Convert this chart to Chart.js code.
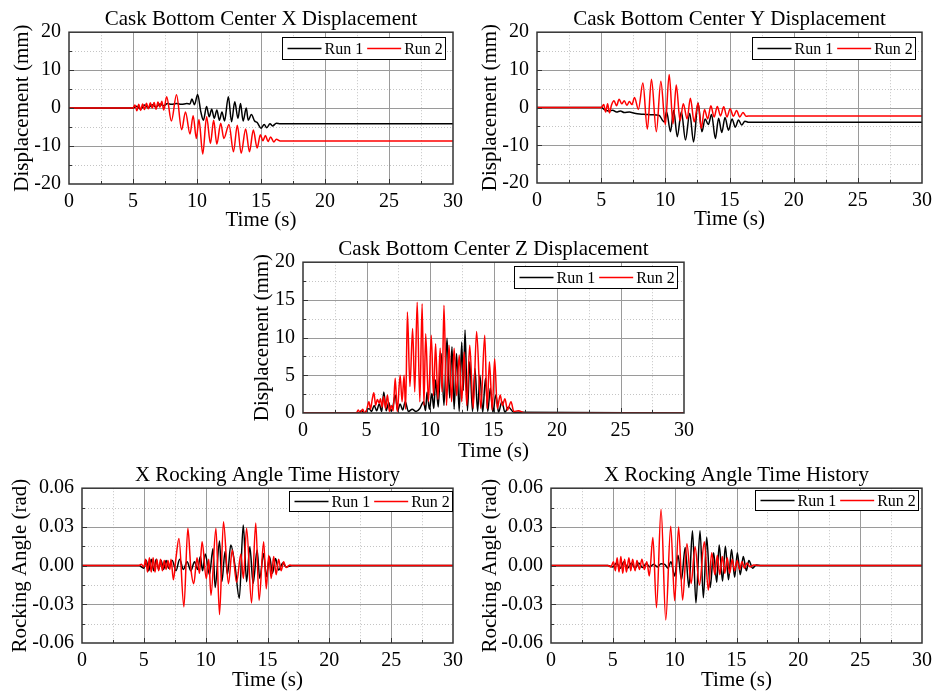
<!DOCTYPE html>
<html>
<head>
<meta charset="utf-8">
<script src="https://cdn.jsdelivr.net/npm/chart.js@4.4.0/dist/chart.umd.min.js"></script>
<style>
  body { margin: 0; background: #fff; }
  .panel { position: absolute; }
</style>
</head>
<body>
<div class="panel" id="p1"><canvas id="c1"></canvas></div>
<div class="panel" id="p2"><canvas id="c2"></canvas></div>
<div class="panel" id="p3"><canvas id="c3"></canvas></div>
<div class="panel" id="p4"><canvas id="c4"></canvas></div>
<div class="panel" id="p5"><canvas id="c5"></canvas></div>
<script>
// ---- data (time in s) ----
const xRun1T = [0, 5.0, 5.3, 5.6, 5.9, 6.2, 6.5, 6.8, 7.1, 7.4, 7.7, 8.0, 8.4, 8.8, 9.2, 9.45, 9.6, 9.8, 10.05, 10.3, 10.5, 10.75, 10.95, 11.15, 11.35, 11.55, 11.75, 11.95, 12.15, 12.45, 12.7, 12.95, 13.2, 13.4, 13.6, 13.85, 14.0, 14.25, 14.5, 14.7, 15.0, 15.25, 15.45, 15.7, 15.9, 16.2, 16.5, 30];
const xRun1V = [0, 0, 0.5, -0.3, 0.8, 0.1, 0.9, 0.3, 1.1, 0.6, 1.2, 1.0, 1.2, 1.0, 1.2, 1.1, 2.4, 0.9, 3.6, -1.0, -3.2, 0.4, -2.3, -0.3, -2.7, -0.5, -3.2, -1.0, -3.4, 3.0, -3.6, 1.7, -2.7, 1.2, -3.4, 0.0, -3.2, -1.7, -3.4, -3.8, -5.3, -4.3, -5.2, -4.1, -4.7, -4.0, -4.1, -4.1];
const xRun2T = [0, 5.0, 5.15, 5.3, 5.45, 5.6, 5.75, 5.9, 6.05, 6.2, 6.35, 6.5, 6.65, 6.8, 6.95, 7.1, 7.25, 7.4, 7.63, 8.0, 8.4, 8.8, 9.1, 9.45, 9.7, 9.95, 10.15, 10.45, 10.75, 11.05, 11.3, 11.55, 11.85, 12.1, 12.5, 12.85, 13.15, 13.45, 13.8, 14.1, 14.4, 14.7, 14.95, 15.15, 15.35, 15.55, 15.75, 16.0, 16.2, 16.5, 30];
const xRun2V = [0, 0, 0.8, -0.7, 1.0, -0.6, 1.1, -0.4, 1.3, -0.2, 1.4, 0.0, 1.5, -0.3, 1.6, 0.2, 1.8, -0.5, 3.0, -3.4, 3.5, -5.7, -1.0, -6.8, -2.0, -8.0, -3.0, -12.1, -2.3, -9.3, -3.2, -9.5, -4.0, -8.0, -4.3, -11.5, -4.5, -11.9, -5.5, -11.5, -5.8, -10.5, -7.0, -8.6, -7.2, -8.8, -7.6, -8.9, -8.2, -8.7, -8.7];

const yRun1T = [0, 5.0, 5.3, 5.6, 5.9, 6.2, 6.5, 6.8, 7.2, 7.6, 8.0, 8.5, 9.0, 9.5, 9.9, 10.1, 10.4, 10.65, 10.93, 11.25, 11.57, 11.9, 12.2, 12.55, 12.85, 13.1, 13.35, 13.6, 13.9, 14.15, 14.4, 14.65, 14.92, 15.2, 15.45, 15.7, 15.95, 16.2, 16.5, 30];
const yRun1V = [0, 0, -0.6, -0.9, -0.7, -1.2, -0.9, -1.3, -1.2, -1.5, -1.7, -1.8, -1.9, -2.0, -3.8, -1.1, -6.4, -0.7, -7.7, -1.1, -8.6, -1.5, -9.1, 1.2, -6.4, -3.0, -4.5, -1.8, -8.2, -2.8, -6.6, -2.6, -6.0, -3.0, -5.2, -3.3, -4.6, -3.6, -3.9, -3.9];
const yRun2T = [0, 5.0, 5.2, 5.35, 5.5, 5.65, 5.8, 6.0, 6.2, 6.4, 6.6, 6.8, 7.0, 7.2, 7.4, 7.6, 7.9, 8.25, 8.6, 8.92, 9.3, 9.65, 10.0, 10.3, 10.6, 10.85, 11.15, 11.4, 11.7, 11.95, 12.25, 12.55, 12.8, 13.05, 13.3, 13.55, 13.8, 14.05, 14.3, 14.55, 14.8, 15.05, 15.3, 15.55, 15.8, 16.05, 16.3, 16.6, 30];
const yRun2V = [0, 0, 0.8, -1.2, 1.0, -1.4, 0.6, 1.8, 0.5, 2.2, 1.0, 1.8, 0.6, 1.6, 0.8, 2.7, -0.5, 6.5, -5.7, 7.5, -6.4, 7.0, -4.5, 8.8, -4.3, 6.0, -3.5, 1.0, -3.0, 2.5, -3.8, 1.2, -5.5, -0.5, -3.0, 0.5, -2.5, 0.3, -2.2, 0.2, -2.5, -0.3, -2.3, -0.8, -2.5, -1.3, -2.3, -2.2, -2.2];

const zRun1T = [0, 4.4, 4.6, 4.8, 5.2, 5.4, 5.6, 5.8, 6.0, 6.2, 6.36, 6.55, 6.75, 6.95, 7.1, 7.26, 7.45, 7.65, 7.85, 8.05, 8.3, 8.6, 8.9, 9.2, 9.5, 9.65, 9.77, 9.95, 10.15, 10.3, 10.44, 10.65, 10.88, 11.1, 11.34, 11.55, 11.73, 11.9, 12.09, 12.3, 12.5, 12.62, 12.76, 12.95, 13.13, 13.35, 13.54, 13.75, 13.93, 14.15, 14.37, 14.55, 14.75, 14.95, 15.19, 15.4, 15.66, 15.9, 16.17, 16.6, 30];
const zRun1V = [0, 0, 0.3, 0, 0.6, 0.2, 1.0, 0.3, 1.2, 0.2, 2.8, 0.3, 1.4, 0.2, 1.0, 2.4, 0.3, 1.2, 0.4, 1.5, 0.2, 0.5, 0.2, 0.6, 1.5, 0.3, 2.8, 0.5, 2.6, 0.6, 4.4, 0.8, 7.9, 1.0, 9.9, 2.0, 8.8, 0.5, 7.9, 0.2, 9.4, 3.0, 11.0, 0.3, 6.8, 0.2, 5.9, 0.2, 5.0, 0.1, 4.6, 0.2, 3.3, 0.1, 2.4, 0.1, 1.5, 0.1, 0.8, 0.1, 0];
const zRun2T = [0, 4.2, 4.35, 4.5, 4.7, 4.85, 5.0, 5.19, 5.32, 5.45, 5.58, 5.72, 5.85, 6.0, 6.1, 6.22, 6.36, 6.5, 6.65, 6.8, 6.95, 7.1, 7.26, 7.42, 7.65, 7.8, 7.96, 8.08, 8.22, 8.42, 8.63, 8.8, 8.99, 9.2, 9.38, 9.52, 9.66, 9.88, 10.1, 10.28, 10.44, 10.62, 10.8, 10.95, 11.1, 11.3, 11.5, 11.7, 11.9, 12.1, 12.3, 12.5, 12.69, 12.9, 13.13, 13.4, 13.67, 14.0, 14.31, 14.5, 14.68, 14.9, 15.09, 15.3, 15.53, 15.7, 15.9, 16.1, 16.38, 16.6, 16.95, 17.5, 30];
const zRun2V = [0, 0, 0.4, 0, 0.5, 0, 0.3, 1.5, 0.5, 1.8, 2.7, 1.0, 1.8, 1.3, 1.9, 0.8, 2.2, 0.6, 2.4, 0.2, 1.0, 0.3, 4.6, 0.2, 5.0, 1.5, 5.0, 0.5, 13.4, 3.5, 11.2, 2.8, 14.7, 1.5, 14.5, 1.0, 10.5, 1.5, 10.3, 2.3, 9.2, 1.8, 8.6, 2.8, 14.3, 1.0, 9.0, 1.5, 8.6, 2.3, 7.7, 1.5, 8.1, 1.0, 9.0, 0.6, 10.8, 0.6, 10.3, 0.6, 6.8, 0.4, 7.2, 0.6, 2.4, 1.0, 1.9, 0.4, 1.5, 0.2, 0.3, 0, 0];

const rock1Run1T = [0, 4.6, 5.0, 5.2, 5.4, 5.6, 5.8, 6.0, 6.2, 6.4, 6.6, 6.8, 7.0, 7.3, 7.6, 7.9, 8.2, 8.5, 8.8, 9.1, 9.35, 9.57, 9.75, 9.97, 10.31, 10.59, 10.77, 11.12, 11.31, 11.57, 11.76, 12.03, 12.37, 12.72, 13.04, 13.31, 13.57, 13.84, 14.16, 14.37, 14.69, 14.9, 15.17, 15.4, 15.65, 15.9, 16.24, 16.5, 17.0, 30];
const rock1Run1V = [0, 0, -0.002, 0.004, -0.004, 0.005, -0.004, 0.005, -0.003, 0.004, -0.003, 0.004, -0.002, 0.004, -0.004, 0.005, -0.003, 0.003, -0.004, 0.003, -0.003, 0.007, -0.004, 0.009, -0.007, 0.013, -0.017, 0.019, -0.0125, 0.011, -0.007, 0.016, 0.000, -0.0254, 0.0314, -0.0125, 0.0146, -0.0138, 0.012, -0.010, 0.0094, -0.0086, 0.0068, -0.006, 0.0055, -0.0035, 0.002, -0.001, 0, 0];
const rock1Run2T = [0, 4.6, 4.8, 5.0, 5.15, 5.3, 5.45, 5.6, 5.75, 5.9, 6.05, 6.2, 6.35, 6.5, 6.65, 6.8, 6.95, 7.1, 7.2, 7.39, 7.6, 7.84, 8.24, 8.56, 8.8, 9.04, 9.3, 9.5, 9.71, 10.05, 10.25, 10.43, 10.83, 11.12, 11.44, 11.84, 12.15, 12.5, 12.85, 13.05, 13.31, 13.71, 14.05, 14.32, 14.69, 14.9, 15.1, 15.3, 15.5, 15.7, 15.9, 16.1, 16.3, 16.5, 16.8, 17.0, 30];
const rock1Run2V = [0, 0, 0.001, -0.001, 0.005, -0.005, 0.006, -0.005, 0.006, -0.005, 0.005, -0.004, 0.005, -0.004, 0.004, -0.003, 0.004, -0.003, 0.005, -0.011, 0.006, 0.021, -0.032, 0.029, -0.002, -0.014, 0.006, -0.006, 0.0185, -0.010, 0.005, -0.023, 0.029, -0.038, 0.034, -0.014, 0.012, -0.013, 0.009, -0.010, 0.029, -0.029, 0.033, -0.027, 0.0185, -0.018, 0.008, -0.010, 0.007, -0.007, 0.005, -0.004, 0.003, -0.0015, 0.0005, 0, 0];

const rock2Run1T = [0, 4.6, 5.0, 5.3, 5.6, 5.9, 6.2, 6.5, 6.8, 7.1, 7.4, 7.7, 8.0, 8.3, 8.6, 8.9, 9.2, 9.45, 9.7, 10.0, 10.27, 10.55, 10.85, 11.15, 11.44, 11.72, 12.05, 12.32, 12.59, 12.87, 13.15, 13.4, 13.6, 13.87, 14.1, 14.35, 14.6, 14.85, 15.07, 15.3, 15.55, 15.8, 16.0, 16.3, 16.6, 17.0, 30];
const rock2Run1V = [0, 0, -0.001, 0.002, -0.002, 0.003, -0.002, 0.002, -0.002, 0.002, -0.0015, 0.0015, -0.001, 0.001, -0.001, 0.0015, 0.001, -0.002, 0.003, -0.008, 0.008, -0.011, 0.014, -0.017, 0.027, -0.029, 0.027, -0.025, 0.022, -0.017, 0.010, -0.013, 0.016, -0.012, 0.015, -0.011, 0.0125, -0.009, 0.010, -0.007, 0.007, -0.004, 0.004, -0.002, 0.0005, 0, 0];
const rock2Run2T = [0, 4.6, 4.85, 5.05, 5.2, 5.35, 5.5, 5.65, 5.8, 5.95, 6.1, 6.3, 6.45, 6.6, 6.8, 6.95, 7.15, 7.35, 7.55, 7.75, 7.95, 8.24, 8.53, 8.9, 9.28, 9.68, 10.0, 10.32, 10.64, 10.99, 11.33, 11.65, 12.0, 12.4, 12.72, 13.0, 13.25, 13.45, 13.65, 13.85, 14.05, 14.25, 14.45, 14.65, 14.85, 15.05, 15.25, 15.45, 15.65, 15.85, 16.1, 16.4, 16.8, 30];
const rock2Run2V = [0, 0, -0.001, 0.003, -0.004, 0.006, -0.005, 0.007, -0.006, 0.005, -0.005, 0.006, -0.004, 0.005, -0.004, 0.004, -0.003, 0.005, -0.003, 0.003, -0.008, 0.0218, -0.0326, 0.0437, -0.0422, 0.0306, -0.0272, 0.030, -0.0267, 0.017, -0.0138, 0.0146, -0.015, 0.0185, -0.019, 0.010, -0.007, 0.008, -0.007, 0.007, -0.006, 0.006, -0.006, 0.005, -0.004, 0.004, -0.003, 0.003, -0.002, 0.002, -0.001, 0.0005, 0, 0];

const timeTicks = [0, 5, 10, 15, 20, 25, 30];
const timeMinor = [2.5, 7.5, 12.5, 17.5, 22.5, 27.5];
const dispTicks = [-20, -10, 0, 10, 20];
const dispMinor = [-15, -5, 5, 15];
const zTicks = [0, 5, 10, 15, 20];
const zMinor = [2.5, 7.5, 12.5, 17.5];
const rockTicks = [-0.06, -0.03, 0, 0.03, 0.06];
const rockMinor = [-0.045, -0.015, 0.015, 0.045];
const runLabels = ['Run 1', 'Run 2'];

Chart.defaults.font.family = '"Liberation Serif", "Times New Roman", serif';
Chart.defaults.color = '#000';

function pts(t, v) { return t.map((x, i) => ({ x: x, y: v[i] })); }

function line(ctx, x1, y1, x2, y2) {
  ctx.beginPath(); ctx.moveTo(x1, y1); ctx.lineTo(x2, y2); ctx.stroke();
}

const framePlugin = {
  id: 'frame',
  beforeDatasetsDraw(chart, args, o) {
    const { ctx, chartArea: a, scales: { x, y } } = chart;
    ctx.save();
    ctx.lineWidth = 1;
    // minor grid, dotted
    ctx.strokeStyle = '#c4c4c4';
    ctx.setLineDash([1, 2]);
    o.xMinor.forEach(v => { const p = Math.round(x.getPixelForValue(v)) + 0.5; line(ctx, p, a.top, p, a.bottom); });
    o.yMinor.forEach(v => { const p = Math.round(y.getPixelForValue(v)) + 0.5; line(ctx, a.left, p, a.right, p); });
    // major grid, solid
    ctx.setLineDash([]);
    ctx.strokeStyle = '#9a9a9a';
    o.xMajor.forEach(v => { const p = Math.round(x.getPixelForValue(v)) + 0.5; line(ctx, p, a.top, p, a.bottom); });
    o.yMajor.forEach(v => { const p = Math.round(y.getPixelForValue(v)) + 0.5; line(ctx, a.left, p, a.right, p); });
    ctx.restore();
  },
  afterDatasetsDraw(chart, args, o) {
    const { ctx, chartArea: a, scales: { x, y } } = chart;
    ctx.save();
    ctx.strokeStyle = '#333';
    ctx.lineWidth = 1.5;
    ctx.strokeRect(a.left, a.top, a.right - a.left, a.bottom - a.top);
    // inward ticks on bottom and left
    ctx.lineWidth = 1;
    o.xMajor.forEach(v => { const p = Math.round(x.getPixelForValue(v)) + 0.5; line(ctx, p, a.bottom, p, a.bottom - 5); });
    o.xMinor.forEach(v => { const p = Math.round(x.getPixelForValue(v)) + 0.5; line(ctx, p, a.bottom, p, a.bottom - 3); });
    o.yMajor.forEach(v => { const p = Math.round(y.getPixelForValue(v)) + 0.5; line(ctx, a.left, p, a.left + 5, p); });
    o.yMinor.forEach(v => { const p = Math.round(y.getPixelForValue(v)) + 0.5; line(ctx, a.left, p, a.left + 3, p); });

    // legend box inside the plot, top right
    const sets = chart.data.datasets;
    ctx.font = '16px "Liberation Serif"';
    const seg = 34;
    let w = 5;
    sets.forEach(d => { w += seg + 3 + ctx.measureText(d.label).width + 4; });
    w = w - 4 + 3;
    const h = o.legendH;
    const bx = Math.round(a.right - o.legendDx - w) + 0.5;
    const by = Math.round(a.top + o.legendDy) + 0.5;
    ctx.fillStyle = '#fff';
    ctx.fillRect(bx, by, w, h);
    ctx.strokeStyle = '#000';
    ctx.lineWidth = 1;
    ctx.strokeRect(bx, by, Math.round(w), h);
    let cx = bx + 5;
    const cy = by + h / 2;
    ctx.textBaseline = 'middle';
    ctx.textAlign = 'left';
    sets.forEach(d => {
      ctx.strokeStyle = d.borderColor;
      ctx.lineWidth = 1.5;
      line(ctx, cx, cy, cx + seg, cy);
      cx += seg + 3;
      ctx.fillStyle = '#000';
      ctx.fillText(d.label, cx, cy + 1);
      cx += ctx.measureText(d.label).width + 4;
    });
    ctx.restore();
  }
};

const panels = [
  { id: 'c1', box: [0, 0, 469, 233], yw: 69, xh: 49, padR: 12, yTitlePad: 10,
    title: 'Cask Bottom Center X Displacement', yTitle: 'Displacement (mm)',
    t1: xRun1T, v1: xRun1V, t2: xRun2T, v2: xRun2V,
    yMin: -20, yMax: 20, yTicks: dispTicks, yMinor: dispMinor, fmt: v => String(v),
    legendDx: 8, legendDy: 5, legendH: 22 },
  { id: 'c2', box: [470, 0, 468, 232], yw: 67, xh: 49, padR: 13, yTitlePad: 8,
    title: 'Cask Bottom Center Y Displacement', yTitle: 'Displacement (mm)',
    t1: yRun1T, v1: yRun1V, t2: yRun2T, v2: yRun2V,
    yMin: -20, yMax: 20, yTicks: dispTicks, yMinor: dispMinor, fmt: v => String(v),
    legendDx: 7, legendDy: 5, legendH: 22 },
  { id: 'c3', box: [240, 230, 460, 234], yw: 63, xh: 51, padR: 10, yTitlePad: 10,
    title: 'Cask Bottom Center Z Displacement', yTitle: 'Displacement (mm)',
    t1: zRun1T, v1: zRun1V, t2: zRun2T, v2: zRun2V,
    yMin: 0, yMax: 20, yTicks: zTicks, yMinor: zMinor, fmt: v => String(v),
    legendDx: 7, legendDy: 4, legendH: 22 },
  { id: 'c4', box: [0, 456, 469, 237], yw: 82, xh: 50, padR: 12, yTitlePad: 8,
    title: 'X Rocking Angle Time History', yTitle: 'Rocking Angle (rad)',
    t1: rock1Run1T, v1: rock1Run1V, t2: rock1Run2T, v2: rock1Run2V,
    yMin: -0.06, yMax: 0.06, yTicks: rockTicks, yMinor: rockMinor, fmt: v => v.toFixed(2),
    legendDx: 1, legendDy: 3, legendH: 20 },
  { id: 'c5', box: [470, 456, 468, 237], yw: 81, xh: 50, padR: 12, yTitlePad: 8,
    title: 'X Rocking Angle Time History', yTitle: 'Rocking Angle (rad)',
    t1: rock2Run1T, v1: rock2Run1V, t2: rock2Run2T, v2: rock2Run2V,
    yMin: -0.06, yMax: 0.06, yTicks: rockTicks, yMinor: rockMinor, fmt: v => v.toFixed(2),
    legendDx: 4, legendDy: 2, legendH: 20 }
];

panels.forEach(p => {
  const canvas = document.getElementById(p.id);
  const wrap = canvas.parentNode;
  wrap.style.left = p.box[0] + 'px';
  wrap.style.top = p.box[1] + 'px';
  wrap.style.width = p.box[2] + 'px';
  wrap.style.height = p.box[3] + 'px';

  new Chart(canvas, {
    type: 'line',
    data: {
      datasets: [
        { label: runLabels[0], data: pts(p.t1, p.v1), borderColor: '#000000', order: 1 },
        { label: runLabels[1], data: pts(p.t2, p.v2), borderColor: '#ff0000', order: 0 }
      ]
    },
    options: {
      responsive: true,
      maintainAspectRatio: false,
      devicePixelRatio: 1,
      animation: false,
      layout: { padding: { left: 0, top: 0, right: p.padR, bottom: 0 } },
      elements: {
        point: { radius: 0 },
        line: { borderWidth: 1.5, cubicInterpolationMode: 'monotone', fill: false }
      },
      plugins: {
        legend: { display: false },
        tooltip: { enabled: false },
        title: {
          display: true, text: p.title, fullSize: false, color: '#000',
          font: { size: 21, weight: 'normal' }, padding: { top: 7, bottom: 0 }
        },
        frame: {
          xMajor: timeTicks.slice(1, -1), xMinor: timeMinor,
          yMajor: p.yTicks.slice(1, -1), yMinor: p.yMinor,
          legendDx: p.legendDx, legendDy: p.legendDy, legendH: p.legendH
        }
      },
      scales: {
        x: {
          type: 'linear', position: 'bottom', min: 0, max: 30,
          afterBuildTicks: s => { s.ticks = timeTicks.map(v => ({ value: v })); },
          afterFit: s => { s.height = p.xh; },
          grid: { display: false, drawTicks: false },
          border: { display: false },
          ticks: { font: { size: 20 }, padding: 6, maxRotation: 0, autoSkip: false, color: '#000' },
          title: { display: true, text: 'Time (s)', font: { size: 21 }, padding: { top: 0, bottom: 0 }, color: '#000' }
        },
        y: {
          type: 'linear', position: 'left', min: p.yMin, max: p.yMax,
          afterBuildTicks: s => { s.ticks = p.yTicks.map(v => ({ value: v })); },
          afterFit: s => { s.width = p.yw; },
          grid: { display: false, drawTicks: false },
          border: { display: false },
          ticks: { font: { size: 20 }, padding: 8, autoSkip: false, color: '#000', callback: p.fmt },
          title: { display: true, text: p.yTitle, font: { size: 21 }, padding: { top: p.yTitlePad, bottom: 0 }, color: '#000' }
        }
      }
    },
    plugins: [framePlugin]
  });
});
</script>
</body>
</html>
